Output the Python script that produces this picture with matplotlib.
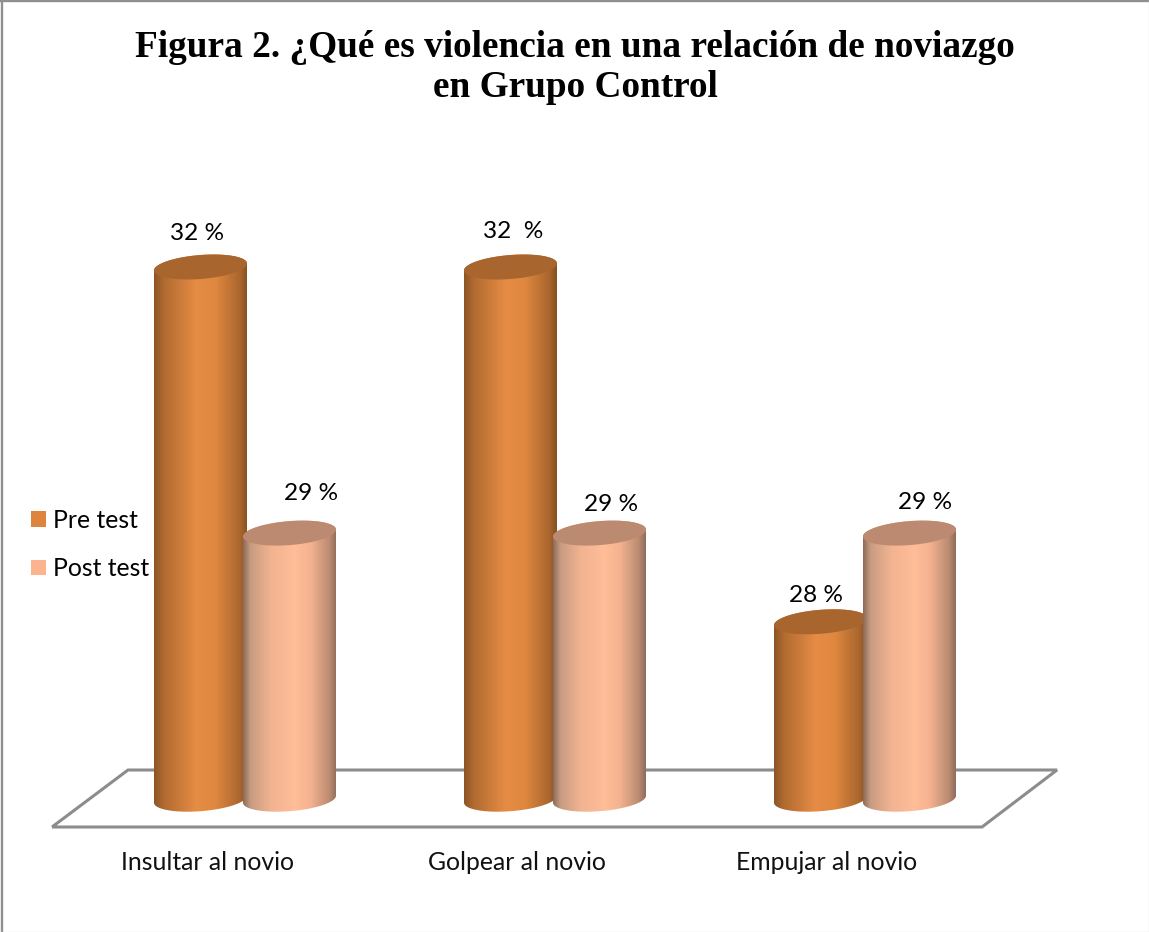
import numpy as np
import matplotlib
matplotlib.use("Agg")
import matplotlib.pyplot as plt
from matplotlib.colors import LinearSegmentedColormap
from matplotlib.lines import Line2D
from matplotlib.patches import Patch, PathPatch
from matplotlib.path import Path

categories = ["Insultar al novio", "Golpear al novio", "Empujar al novio"]
pre_test = [32, 32, 28]
post_test = [29, 29, 29]
series_names = ["Pre test", "Post test"]
title_text = "Figura 2. ¿Qué es violencia en una relación de noviazgo\nen Grupo Control"
pre_gaps = [" ", "  ", " "]
post_gaps = [" ", " ", " "]

W, H = 1149, 932
BASE = 26
PX_X = 310.0      # pixels per category
PX_Y = 88.7       # pixels per percentage point
X0 = 245.0        # pixel of first category centre
Y32 = 267.0       # pixel of value 32
FLOOR_PX = 827.0

fig = plt.figure(figsize=(W / 100, H / 100), dpi=100, facecolor="white")
ax = fig.add_axes([0, 1 - FLOOR_PX / H, 1, FLOOR_PX / H], facecolor="none")
xlim = (-X0 / PX_X, (W - X0) / PX_X)
ylim = (32 - (FLOOR_PX - Y32) / PX_Y, 32 + Y32 / PX_Y)

# frame: darker top/left, pale right/bottom
for xs, ys, col, lw in (([1.5, 1.5], [0, H], "#8f8f8f", 1.7),
                        ([0, W], [1.2, 1.2], "#8f8f8f", 1.7),
                        ([W - 0.5, W - 0.5], [0, H], "#dedede", 0.9),
                        ([0, W], [H - 0.5, H - 0.5], "#dedede", 0.9)):
    fig.add_artist(Line2D(np.array(xs) / W, 1 - np.array(ys) / H, color=col, linewidth=lw,
                          transform=fig.transFigure))

def fx(p):
    return (p - X0) / PX_X
def fy(p):
    return 32 - (p - Y32) / PX_Y

# floor
floor = np.array([[52, 827], [128, 770], [1057, 770], [982, 827], [52, 827]], float)
ax.add_patch(PathPatch(Path(np.c_[fx(floor[:, 0]), fy(floor[:, 1])]), facecolor="white",
                       edgecolor="#8c8c8c", linewidth=2.2, clip_on=False, zorder=1, joinstyle="miter"))

HALF = 46.5 / PX_X
B = 12.0 / PX_Y
S = 3.5 / PX_Y
OFF = 44.5 / PX_X

def ell(cx, cy, t):
    return np.c_[cx + HALF * np.cos(t), cy + S * np.cos(t) + B * np.sin(t)]

def cylinder(cx, val, stops, top_color, z):
    front_top = ell(cx, val, np.linspace(0, np.pi, 60))      # back arc of the top
    front_bot = ell(cx, BASE, np.linspace(np.pi, 2 * np.pi, 60))
    pts = np.vstack([front_top, front_bot, front_top[:1]])
    clip = PathPatch(Path(pts), facecolor="none", edgecolor="none", transform=ax.transData, zorder=z)
    ax.add_patch(clip)
    cmap = LinearSegmentedColormap.from_list("c", stops)
    im = ax.imshow(np.linspace(0, 1, 256)[None, :], cmap=cmap, aspect="auto", vmin=0, vmax=1,
                   extent=(cx - HALF, cx + HALF, BASE - 2 * B, val + 2 * B), zorder=z, interpolation="bilinear")
    im.set_clip_path(clip)
    t = np.linspace(0, 2 * np.pi, 120)
    ax.add_patch(PathPatch(Path(ell(cx, val, t)), facecolor=top_color, edgecolor="none", zorder=z + 0.1))

pre_stops = [(0, "#8C5526"), (0.10, "#B06A30"), (0.45, "#E68C45"), (0.65, "#E0883F"),
             (0.92, "#A9662E"), (1, "#84501F")]
post_stops = [(0, "#8C6A58"), (0.08, "#C89C82"), (0.3, "#F2B391"), (0.55, "#FFBD98"), (0.72, "#F4B290"),
              (0.92, "#BC8C72"), (1, "#8F6D5A")]

pre_off = [(-3, 33), (3, 36), (-5, 26)]
post_off = [(21.5, 40), (11.5, 29), (15.5, 31)]

for i in range(len(categories)):
    cylinder(i - OFF, pre_test[i], pre_stops, "#A8652E", 2 + i)
    cylinder(i + OFF, post_test[i], post_stops, "#BC8A70", 2.5 + i)
    for c, v, gap, (dx, dy) in ((i - OFF, pre_test[i], pre_gaps[i], pre_off[i]),
                                (i + OFF, post_test[i], post_gaps[i], post_off[i])):
        ax.annotate(f"{v}{gap}%", (c, v), xytext=(dx * 0.72, dy * 0.72), textcoords="offset points",
                    ha="center", va="center", fontsize=17.6, family="Lato", color="black", zorder=10)

ax.set_xlim(xlim)
ax.set_ylim(ylim)
ax.set_yticks([])
ax.set_xticks(np.arange(len(categories)) - 38 / PX_X)
ax.set_xticklabels(categories, fontsize=17.8, family="Lato", color="#111111")
ax.tick_params(axis="x", length=0, pad=17)
for s in ax.spines.values():
    s.set_visible(False)

handles = [Patch(facecolor="#DD843E", label=series_names[0]),
           Patch(facecolor="#FBB48E", label=series_names[1])]
ax.legend(handles=handles, loc="center left", frameon=False, prop={"family": "Lato", "size": 17.8},
          handlelength=0.6, handleheight=0.6, handletextpad=0.3, labelspacing=1.02, borderpad=0, borderaxespad=0,
          bbox_to_anchor=(31 / W, 1 - 544.5 / H), bbox_transform=fig.transFigure).set_zorder(20)

fig.text(575 / W, 1 - 67.5 / H, title_text, ha="center", va="center", family="Liberation Serif",
         fontweight="bold", fontsize=26.85, color="black", linespacing=1.21)

fig.savefig("out.png", dpi=100, facecolor="white")
